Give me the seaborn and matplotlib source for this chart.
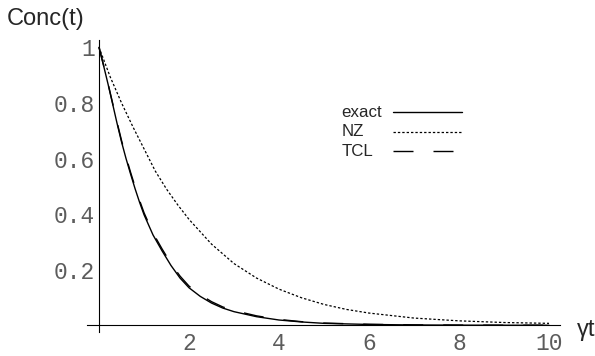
import numpy as np
import pandas as pd
import matplotlib
matplotlib.use("Agg")
import matplotlib.pyplot as plt
import seaborn as sns
from matplotlib.ticker import MultipleLocator

# ---- data ----
t_exact = [0, 0.1, 0.2, 0.3, 0.4, 0.5, 0.6, 0.7, 0.8, 0.9, 1.0, 1.2, 1.4, 1.6, 1.8,
           2.0, 2.25, 2.5, 2.75, 3.0, 3.5, 4.0, 4.5, 5.0, 6.0, 7.0, 8.0, 9.0, 10.0]
exact = [1.0, 0.935, 0.868, 0.798, 0.727, 0.660, 0.600, 0.545, 0.492, 0.443, 0.398,
         0.325, 0.268, 0.215, 0.170, 0.135, 0.104, 0.080, 0.062, 0.049, 0.031, 0.019,
         0.012, 0.007, 0.003, 0.0012, 0.0005, 0.0002, 0.0001]
tcl = [1.0, 0.936, 0.870, 0.801, 0.731, 0.665, 0.606, 0.551, 0.499, 0.450, 0.405,
       0.332, 0.275, 0.222, 0.177, 0.141, 0.110, 0.085, 0.066, 0.053, 0.034, 0.021,
       0.013, 0.008, 0.0035, 0.0014, 0.0006, 0.0002, 0.0001]
t_nz = [0, 0.25, 0.5, 0.75, 1.0, 1.25, 1.5, 1.75, 2.0, 2.5, 3.0, 3.5, 4.0, 4.5, 5.0,
        5.5, 6.0, 7.0, 8.0, 9.0, 10.0]
nz = [1.0, 0.893, 0.800, 0.715, 0.635, 0.555, 0.490, 0.433, 0.381, 0.292, 0.222,
      0.170, 0.130, 0.099, 0.075, 0.057, 0.044, 0.026, 0.016, 0.010, 0.007]

series_labels = ["exact", "NZ", "TCL"]
x_ticks = [2, 4, 6, 8, 10]
x_ticklabels = ["2", "4", "6", "8", "10"]
y_ticks = [0.2, 0.4, 0.6, 0.8, 1.0]
y_ticklabels = ["0.2", "0.4", "0.6", "0.8", "1"]

sns.set_style("white")
plt.rcParams["font.family"] = ["Liberation Sans", "DejaVu Sans"]

W, H = 595, 356
fig = plt.figure(figsize=(W / 100, H / 100), dpi=100)
ax = fig.add_axes([0.146, 0.0683, 0.9416 - 0.146, 0.8874 - 0.0683])

df_exact = pd.DataFrame({"t": t_exact, "c": exact})
df_tcl = pd.DataFrame({"t": t_exact, "c": tcl})
df_nz = pd.DataFrame({"t": t_nz, "c": nz})

sns.lineplot(data=df_exact, x="t", y="c", ax=ax, color="black", lw=1.0,
             estimator=None, legend=False)
sns.lineplot(data=df_nz, x="t", y="c", ax=ax, color="black", lw=0.9,
             estimator=None, legend=False)
ax.lines[-1].set_dashes((1.9, 1.6))
sns.lineplot(data=df_tcl, x="t", y="c", ax=ax, color="black", lw=1.0,
             estimator=None, legend=False)
ax.lines[-1].set_dashes((14.4, 14.4))

ax.set_xlim(-0.27, 10.25)
ax.set_ylim(-0.023, 1.026)
for s in ["top", "right"]:
    ax.spines[s].set_visible(False)
for s in ["left", "bottom"]:
    ax.spines[s].set_position(("data", 0))
    ax.spines[s].set_linewidth(0.8)
    ax.spines[s].set_color("black")

ax.set_xticks(x_ticks)
ax.set_xticklabels(x_ticklabels)
ax.set_yticks(y_ticks)
ax.set_yticklabels(y_ticklabels)
ax.xaxis.set_minor_locator(MultipleLocator(0.5))
ax.yaxis.set_minor_locator(MultipleLocator(0.05))
ax.tick_params(which="major", direction="in", length=3.5, width=0.7, color="black",
               labelsize=16.5, labelcolor="#5c5c5c")
ax.tick_params(which="minor", direction="in", length=2.0, width=0.6, color="black")
ax.tick_params(axis="x", pad=5)
ax.tick_params(axis="y", pad=3)
for lab in ax.get_xticklabels() + ax.get_yticklabels():
    lab.set_fontfamily(["Liberation Mono", "DejaVu Sans Mono"])
ax.set_xlabel("")
ax.set_ylabel("")

fig.text(7 / W, 1 - 25 / H, "Conc(t)", fontsize=17, va="baseline", ha="left")
fig.text(577 / W, 1 - 330 / H, "γt", fontsize=17, va="center", ha="left")

# legend: sample lines via legend, labels left-aligned as text
handles = ax.lines[:3]
leg_fs = 12.2
leg = ax.legend(handles, ["", "", ""], loc="upper left",
                bbox_to_anchor=(393.3 / W, 1 - 104 / H), bbox_transform=fig.transFigure,
                frameon=False, handlelength=69 * 0.72 / leg_fs, handletextpad=0,
                borderpad=0, borderaxespad=0, labelspacing=0.27, fontsize=leg_fs,
                markerfirst=False)
fig.canvas.draw()
r = fig.canvas.get_renderer()
legl = leg.get_lines()
y0 = legl[0].get_window_extent(r)
ycen0 = (y0.y0 + y0.y1) / 2
shift = (H - 112.3) - ycen0
leg.set_bbox_to_anchor((393.3 / W, 1 - 104 / H + shift / H), transform=fig.transFigure)
fig.canvas.draw()
for ln, lab in zip(leg.get_lines(), series_labels):
    bb = ln.get_window_extent(r)
    yc = (bb.y0 + bb.y1) / 2
    fig.text(341.7 / W, yc / H, lab, fontsize=leg_fs, va="center", ha="left")

fig.savefig("out.png", dpi=100)
